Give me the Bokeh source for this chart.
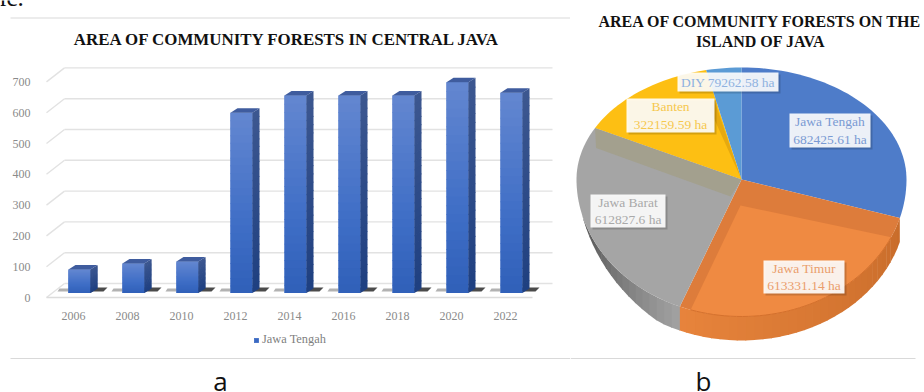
import math

from bokeh.core.properties import value
from bokeh.embed import file_html
from bokeh.layouts import row
from bokeh.models import FixedTicker, Legend, LegendItem, Range1d
from bokeh.plotting import figure
from bokeh.resources import INLINE

# Community forest area in Central Java by year
years = ["2006", "2008", "2010", "2012", "2014", "2016", "2018", "2020", "2022"]
central_java = [76, 96, 102, 585, 641, 641, 641, 684, 650]
value_ticks = [0, 100, 200, 300, 400, 500, 600, 700]
bar_series = "Jawa Tengah"
bar_title = "AREA OF COMMUNITY FORESTS IN CENTRAL JAVA"

# Community forest area per province on Java (ha)
provinces = ["Jawa Tengah", "Jawa Timur", "Jawa Barat", "Banten", "DIY"]
areas = [682425.61, 613331.14, 612827.6, 322159.59, 79262.58]
area_texts = ["682425.61 ha", "613331.14 ha", "612827.6 ha", "322159.59 ha", "79262.58 ha"]
pie_title = "AREA OF COMMUNITY FORESTS ON THE\nISLAND OF JAVA"

SERIF = "Liberation Serif"
LEFT_W, RIGHT_W, H = 570, 354, 392


def lerp_hex(a, b, t):
    ca = [int(a[i:i + 2], 16) for i in (1, 3, 5)]
    cb = [int(b[i:i + 2], 16) for i in (1, 3, 5)]
    return "#%02x%02x%02x" % tuple(round(p + (q - p) * t) for p, q in zip(ca, cb))


# ---------- left panel: pseudo-3D columns ----------
PX_X = 54.0      # pixels per category step
PX_Y = 0.308     # pixels per unit of area
ORIGIN_X, ORIGIN_Y = 73.0, 297.0


def X(px):
    return (px - ORIGIN_X) / PX_X


def Y(py):
    return (ORIGIN_Y - py) / PX_Y


bar = figure(width=LEFT_W, height=H, output_backend="svg", toolbar_location=None,
             x_range=Range1d(X(0), X(LEFT_W)), y_range=Range1d(Y(H), Y(0)),
             min_border=0, outline_line_color=None, background_fill_color="white",
             border_fill_color="white")
bar.grid.visible = False

yaxis, xaxis = bar.yaxis[0], bar.xaxis[0]
yaxis.fixed_location = X(46)
yaxis.ticker = FixedTicker(ticks=value_ticks)
xaxis.fixed_location = 0
xaxis.ticker = FixedTicker(ticks=list(range(len(years))))
xaxis.major_label_overrides = {i: y for i, y in enumerate(years)}
for ax in (xaxis, yaxis):
    ax.axis_line_color = None
    ax.major_tick_line_color = None
    ax.minor_tick_line_color = None
    ax.major_label_text_font = SERIF
    ax.major_label_text_font_size = "12px"
    ax.major_label_text_color = "#8a8a8a"
yaxis.major_label_standoff = 10
xaxis.major_label_standoff = 8

# Back wall, side wall and floor gridlines
wall_dx = 18 / PX_X
wall_dy = 14 / PX_Y
wall_end = X(552)
bar.multi_line([[X(64), wall_end] for _ in value_ticks],
               [[v + wall_dy, v + wall_dy] for v in value_ticks],
               line_color="#e2e2e2", line_width=1.4)
bar.multi_line([[X(46), X(46) + wall_dx] for _ in value_ticks],
               [[v, v + wall_dy] for v in value_ticks],
               line_color="#e2e2e2", line_width=1.4)
bar.line([X(46), X(532)], [0, 0], line_color="#dcdcdc", line_width=1.4)

# Column geometry: front face, depth offset and baseline inside the floor
face_w = 22 / PX_X
face_off = -5 / PX_X
depth_x = 7 / PX_X
depth_y = 4.5 / PX_Y
base = 4.5 / PX_Y

# Contact shadows on the floor
for i in range(len(years)):
    x0 = i + face_off
    x1 = x0 + face_w
    bar.patch([x0 + depth_x, x1 + 17 / PX_X, x1 + 13 / PX_X, x1],
              [Y(287), Y(287), Y(291), Y(291)], fill_color="#2b2b2b", fill_alpha=0.85,
              line_color=None)
    bar.patch([x0 - 9 / PX_X, x0, x0, x0 - 11 / PX_X],
              [Y(288), Y(288), Y(291), Y(291)], fill_color="#666666", fill_alpha=0.5,
              line_color=None)

lefts = [i + face_off for i in range(len(years))]
rights = [x + face_w for x in lefts]
tops = [v + base for v in central_java]
series_bars = bar.quad(left=lefts, right=rights, bottom=[base] * len(years), top=tops,
                       fill_color="#3a69c3", line_color=None)

# Vertical shading on the front and side of each column; each band overlaps the next
STEPS = 24
for x0, x1, top in zip(lefts, rights, tops):
    span = top - base
    for k in range(STEPS):
        t = k / STEPS
        b0 = top - span * t
        b1 = max(base, top - span * (t + 1 / STEPS) - 3)
        if t < 0.6:
            front = lerp_hex("#6286d0", "#3f6ec6", t / 0.6)
        else:
            front = lerp_hex("#3f6ec6", "#2f5fb8", (t - 0.6) / 0.4)
        side = lerp_hex("#3c5790", "#1e3f80", t)
        bar.quad(left=[x0], right=[x1], bottom=[b1], top=[b0], fill_color=front, line_color=None)
        bar.patch([x1 - 0.002, x1 + depth_x, x1 + depth_x, x1 - 0.002],
                  [b0, b0 + depth_y, b1 + depth_y, b1], fill_color=side, line_color=None)
    bar.patch([x0, x0 + depth_x, x1 + depth_x, x1],
              [top, top + depth_y, top + depth_y, top], fill_color="#3f5c9e", line_color=None)

legend = Legend(items=[LegendItem(label=bar_series, renderers=[series_bars])],
                location=(253, H - 347), orientation="horizontal",
                background_fill_alpha=0, border_line_color=None, glyph_width=6, glyph_height=6,
                label_text_font=SERIF, label_text_font_size="12.4px",
                label_text_color="#7f7f7f", label_standoff=3, padding=2, margin=0)
bar.add_layout(legend)

bar.text([X(287)], [Y(39)], text=[bar_title], text_font=value(SERIF), text_font_style="bold",
         text_font_size="16.9px", text_color="#111111", text_align="center", text_baseline="middle")
bar.text([X(-1)], [Y(-3)], text=["ic."], text_font=value(SERIF), text_font_size="25px",
         text_color="#111111", text_align="left", text_baseline="middle")
bar.text([X(220)], [Y(380)], text=["a"], text_font=value("Open Sans"), text_font_size="26px",
         text_color="#111111", text_align="center", text_baseline="middle")
bar.line([X(10), X(LEFT_W)], [Y(17.5), Y(17.5)], line_color="#d9d9d9", line_width=1)
bar.line([X(10), X(LEFT_W)], [Y(358), Y(358)], line_color="#d9d9d9", line_width=1)

# ---------- right panel: tilted pie with an extruded edge ----------
pie = figure(width=RIGHT_W, height=H, output_backend="svg", toolbar_location=None,
             x_range=Range1d(LEFT_W, LEFT_W + RIGHT_W), y_range=Range1d(H, 0),
             min_border=0, outline_line_color=None, x_axis_location=None, y_axis_location=None,
             background_fill_color="white", border_fill_color="white")
pie.grid.visible = False

CX, CY, RX, RY_BACK, RY_FRONT, THICK = 741.0, 179.0, 165.0, 112.0, 137.0, 24.0


def rim(deg):
    a = math.radians(deg)
    c = math.cos(a)
    return CX + RX * math.sin(a), CY - (RY_BACK if c >= 0 else RY_FRONT) * c


def arc(a0, a1):
    n = max(2, int(abs(a1 - a0) / 2) + 1)
    pts = [rim(a0 + (a1 - a0) * k / (n - 1)) for k in range(n)]
    return [p[0] for p in pts], [p[1] for p in pts]


def wall_depth(deg):
    # The edge fades out towards the far left of the rim
    return THICK * max(0.0, min(1.0, (255.0 - deg) / 45.0))


total = sum(areas)
angles = [0.0]
for a in areas:
    angles.append(angles[-1] + a / total * 360)

top_colors = ["#4e7cc9", "#dd7c3b", "#a5a5a5", "#fdbf13", "#5b9bd5"]

# Outer wall, shaded along the visible front of the rim
for a0, a1, c0, c1 in [(angles[1], angles[2], "#c96d2b", "#e8843c"),
                       (angles[2], 255.0, "#a0a0a0", "#4d4d4d")]:
    step = 3.0
    deg = a0
    while deg < a1:
        nxt = min(deg + step, a1)
        xa, ya = rim(deg)
        xb, yb = rim(nxt + 0.3)
        t = (deg - a0) / (a1 - a0)
        pie.patch([xa, xb, xb, xa], [ya, yb, yb + wall_depth(nxt + 0.3), ya + wall_depth(deg)],
                  fill_color=lerp_hex(c0, c1, t), line_color=None)
        deg = nxt

# Slice tops
for i in range(len(areas)):
    xs, ys = arc(angles[i], angles[i + 1])
    pie.patch([CX] + xs, [CY] + ys, fill_color=top_colors[i], line_color=None)

# Raised lighter plate on the lower slice and tinted edges of its neighbours
xs, ys = arc(angles[1] + 8.6, angles[2] - 4)
pie.patch([CX - 1] + xs, [CY + 26] + ys, fill_color="#ef8a42", line_color=None)
pie.line(xs, ys, line_color="#d4702c", line_width=1)
rx_b, ry_b = rim(angles[3])
pie.patch([rx_b, CX, CX - 11, rx_b + 1], [ry_b, CY, CY + 17, ry_b + 20],
          fill_color="#a3a08e", line_color=None)
rx_y, ry_y = rim(angles[4])
pie.patch([CX, rx_y + 4, rx_y + 8], [CY, ry_y + 40, ry_y + 30], fill_color="#e6a90f",
          line_color=None)

# Value labels in translucent boxes
label_boxes = [(789, 870, 113, 147), (763, 844, 260, 293), (590, 665, 194, 227),
               (626, 714, 98, 132), (677, 778, 72, 91)]
label_colors = ["#7a9ad3", "#ea9e6d", "#a9a9a9", "#f6c84e", "#8fb2e0"]
for i, (x0, x1, y0, y1) in enumerate(label_boxes):
    pie.quad(left=[x0 + 2], right=[x1 + 2], top=[y0 + 2], bottom=[y1 + 2], fill_color="#000000",
             fill_alpha=0.16, line_color=None)
    pie.quad(left=[x0], right=[x1], top=[y0], bottom=[y1], fill_color="#ffffff",
             fill_alpha=0.9, line_color=None)
    txt = f"{provinces[i]} {area_texts[i]}" if i == 4 else f"{provinces[i]}\n{area_texts[i]}"
    pie.text([(x0 + x1) / 2], [(y0 + y1) / 2], text=[txt], text_font=value(SERIF),
             text_font_size="13.5px", text_color=label_colors[i], text_align="center",
             text_baseline="middle", text_line_height=1.15)

pie.text([760], [31], text=[pie_title], text_font=value(SERIF), text_font_style="bold",
         text_font_size="16px", text_color="#111111", text_align="center",
         text_baseline="middle", text_line_height=1.2)
pie.text([703], [380], text=["b"], text_font=value("Open Sans"), text_font_size="26px",
         text_color="#111111", text_align="center", text_baseline="middle")
pie.line([LEFT_W, 915], [358, 358], line_color="#d9d9d9", line_width=1)

open("out.html", "w").write(file_html(row(bar, pie, spacing=0), INLINE))
